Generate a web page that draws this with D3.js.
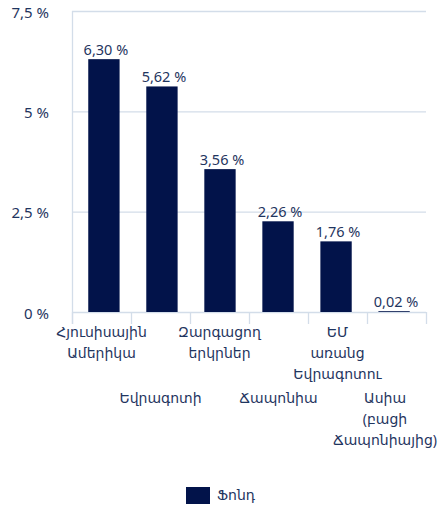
<!DOCTYPE html>
<html>
<head>
<meta charset="utf-8">
<script src="https://d3js.org/d3.v7.min.js"></script>
<style>
  body { margin: 0; background: #fff; }
  text { font-family: "Noto Sans", "DejaVu Sans", sans-serif; fill: #1f3560; }
</style>
</head>
<body>
<script>
// data
const categories = [
  ["Հյուսիսային", "Ամերիկա"],
  ["Եվրագոտի"],
  ["Զարգացող", "երկրներ"],
  ["Ճապոնիա"],
  ["ԵՄ", "առանց", "Եվրագոտու"],
  ["Ասիա", "(բացի", "Ճապոնիայից)"]
];
const values = [6.30, 5.62, 3.56, 2.26, 1.76, 0.02];
const yTicks = [0, 2.5, 5, 7.5];
const seriesName = "Ֆոնդ";

const W = 439, H = 509;
const plotLeft = 72, plotRight = 426, plotTop = 11, plotBottom = 312;
const barColor = "#02134a", gridColor = "#d3dde9";

const fmt = v => d3.format(",.2f")(v).replace(".", ",") + " %";
const fmtTick = v => String(v).replace(".", ",") + " %";

const svg = d3.select("body").append("svg")
  .attr("width", W).attr("height", H);

const x = d3.scaleBand().domain(d3.range(values.length))
  .range([plotLeft, plotRight]).paddingInner(0.46).paddingOuter(0.28);
const xb = d3.scaleBand().domain(d3.range(values.length)).range([plotLeft, plotRight]);
const y = d3.scaleLinear().domain([0, 7.5]).range([plotBottom, plotTop]);

// gridlines
svg.append("g").selectAll("line").data(yTicks).join("line")
  .attr("x1", plotLeft).attr("x2", plotRight)
  .attr("y1", d => y(d) + 0.5).attr("y2", d => y(d) + 0.5)
  .attr("stroke", gridColor).attr("stroke-width", 1.3);

// y axis line
svg.append("line")
  .attr("x1", plotLeft + 0.5).attr("x2", plotLeft + 0.5)
  .attr("y1", plotTop).attr("y2", plotBottom + 12)
  .attr("stroke", gridColor).attr("stroke-width", 1.3);

// category ticks
svg.append("g").selectAll("line").data(d3.range(values.length + 1)).join("line")
  .attr("x1", i => plotLeft + i * xb.bandwidth() + 0.5)
  .attr("x2", i => plotLeft + i * xb.bandwidth() + 0.5)
  .attr("y1", plotBottom).attr("y2", plotBottom + 12)
  .attr("stroke", gridColor).attr("stroke-width", 1.3);

// y tick labels
svg.append("g").selectAll("text").data(yTicks).join("text")
  .attr("x", 49).attr("y", d => y(d) + 1.5)
  .attr("dy", "0.35em")
  .attr("text-anchor", "end")
  .attr("font-size", 15)
  .text(fmtTick);

// bars
svg.append("g").selectAll("rect").data(values).join("rect")
  .attr("x", (d, i) => x(i))
  .attr("width", x.bandwidth())
  .attr("y", d => y(d))
  .attr("height", d => plotBottom - y(d))
  .attr("fill", barColor);

// value labels
svg.append("g").selectAll("text").data(values).join("text")
  .attr("x", (d, i) => x(i) + x.bandwidth() / 2 + 2)
  .attr("y", d => y(d) - 4)
  .attr("text-anchor", "middle")
  .attr("font-size", 14.5)
  .text(fmt);

// category labels, staggered in two rows
const lineH = 21;
categories.forEach((lines, i) => {
  const cx = xb(i) + xb.bandwidth() / 2;
  const y0 = i % 2 === 0 ? 337 : 403;
  const t = svg.append("text")
    .attr("text-anchor", "middle")
    .attr("font-size", 14);
  lines.forEach((ln, j) => {
    t.append("tspan").attr("x", cx).attr("y", y0 + j * lineH).text(ln);
  });
  // keep the label inside the page, like the original does
  const bb = t.node().getBBox();
  const over = bb.x + bb.width - (W - 2);
  if (over > 0) t.attr("transform", "translate(" + (-over) + ",0)");
});

// legend
svg.append("rect")
  .attr("x", 186).attr("y", 487).attr("width", 24).attr("height", 17)
  .attr("fill", barColor);
svg.append("text")
  .attr("x", 217).attr("y", 500)
  .attr("font-size", 14)
  .text(seriesName);
</script>
</body>
</html>
